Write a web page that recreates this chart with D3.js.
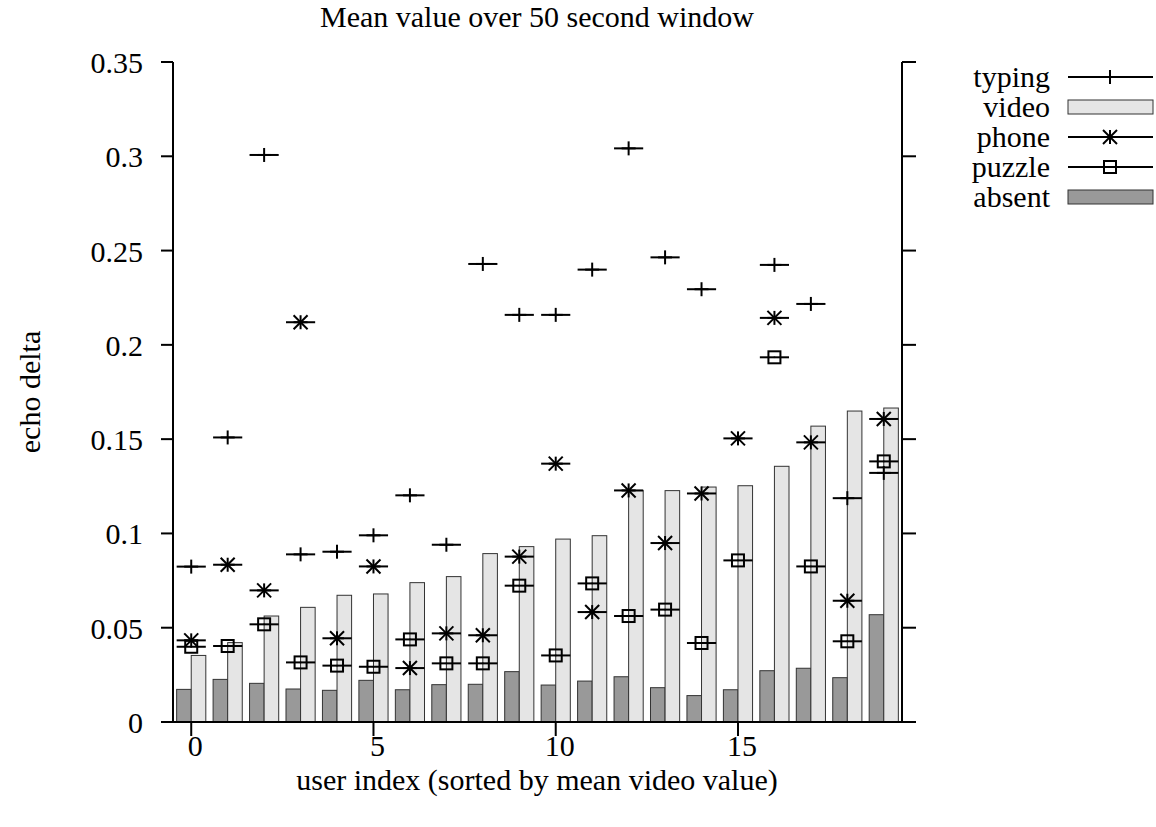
<!DOCTYPE html>
<html>
<head>
<meta charset="utf-8">
<script src="https://cdn.jsdelivr.net/npm/d3@7"></script>
<style>
  html, body { margin: 0; padding: 0; background: #fff; }
  #chart { width: 1156px; height: 827px; }
  text { font-family: "Liberation Serif", "Times New Roman", serif; fill: #000; }
</style>
</head>
<body>
<div id="chart"></div>
<script>
// user index 0..19, sorted by mean video value
const users = d3.range(20);
const typing = [0.0824, 0.1509, 0.3007, 0.0889, 0.0903, 0.0990, 0.1202, 0.0940, 0.2429, 0.2159,
                0.2159, 0.2399, 0.3042, 0.2464, 0.2295, null, 0.2424, 0.2217, 0.1187, 0.1321];
const video = [0.0353, 0.0421, 0.0562, 0.0608, 0.0672, 0.0679, 0.0739, 0.0771, 0.0893, 0.0930,
               0.0970, 0.0988, 0.1227, 0.1227, 0.1246, 0.1253, 0.1356, 0.1569, 0.1649, 0.1665];
const phone = [0.0433, 0.0834, 0.0698, 0.2120, 0.0444, 0.0825, 0.0286, 0.0470, 0.0460, 0.0877,
               0.1370, 0.0583, 0.1228, 0.0949, 0.1212, 0.1504, 0.2143, 0.1483, 0.0643, 0.1607];
const puzzle = [0.0399, 0.0403, 0.0518, 0.0316, 0.0299, 0.0293, 0.0438, 0.0311, 0.0311, 0.0723,
                0.0353, 0.0735, 0.0562, 0.0596, 0.0419, 0.0857, 0.1934, 0.0825, 0.0428, 0.1382];
const absent = [0.0173, 0.0226, 0.0205, 0.0175, 0.0168, 0.0221, 0.0171, 0.0198, 0.0200, 0.0267,
                0.0196, 0.0217, 0.0240, 0.0182, 0.0140, 0.0171, 0.0272, 0.0285, 0.0235, 0.0569];

const xTicks = [0, 5, 10, 15];
const yTicks = [0, 0.05, 0.1, 0.15, 0.2, 0.25, 0.3, 0.35];

function draw() {
  const w = 1156, h = 827;
  const svg = d3.select("#chart").append("svg")
    .attr("width", w).attr("height", h);

  const x = d3.scaleLinear().domain([-0.5, 19.5]).range([173, 902]);
  const y = d3.scaleLinear().domain([0, 0.35]).range([722, 62]);
  const barW = 0.4;

  // bars: absent left of the index, video right of it
  const bars = svg.append("g");
  bars.selectAll("rect.absent")
    .data(users)
    .join("rect")
    .attr("x", i => x(i - barW))
    .attr("y", i => y(absent[i]))
    .attr("width", x(barW) - x(0))
    .attr("height", i => y(0) - y(absent[i]))
    .attr("fill", "#999999")
    .attr("stroke", "#333")
    .attr("stroke-width", 1);
  bars.selectAll("rect.video")
    .data(users)
    .join("rect")
    .attr("x", i => x(i))
    .attr("y", i => y(video[i]))
    .attr("width", x(barW) - x(0))
    .attr("height", i => y(0) - y(video[i]))
    .attr("fill", "#e5e5e5")
    .attr("stroke", "#333")
    .attr("stroke-width", 1);

  // point symbols
  const s = 7;
  function plus(g) {
    g.append("line").attr("x1", -s).attr("x2", s).attr("y1", 0).attr("y2", 0);
    g.append("line").attr("x1", 0).attr("x2", 0).attr("y1", -s).attr("y2", s);
  }
  function star(g) {
    plus(g);
    g.append("line").attr("x1", -s).attr("x2", s).attr("y1", -s).attr("y2", s);
    g.append("line").attr("x1", -s).attr("x2", s).attr("y1", s).attr("y2", -s);
  }
  function box(g) {
    g.append("rect").attr("x", -6).attr("y", -6).attr("width", 12).attr("height", 12)
      .attr("fill", "none");
    g.append("rect").attr("x", -0.75).attr("y", -0.75).attr("width", 1.5).attr("height", 1.5)
      .attr("fill", "#000").attr("stroke", "none");
  }

  const series = [
    { vals: typing, sym: plus },
    { vals: phone, sym: star },
    { vals: puzzle, sym: box }
  ];

  series.forEach(ser => {
    const pts = users.filter(i => ser.vals[i] != null);
    const g = svg.append("g").attr("stroke", "#000").attr("stroke-width", 2).attr("fill", "none");
    g.selectAll("line.bar")
      .data(pts)
      .join("line")
      .attr("x1", i => x(i - barW))
      .attr("x2", i => x(i + barW))
      .attr("y1", i => y(ser.vals[i]))
      .attr("y2", i => y(ser.vals[i]));
    g.selectAll("g.pt")
      .data(pts)
      .join("g")
      .attr("transform", i => `translate(${x(i)},${y(ser.vals[i])})`)
      .each(function () { ser.sym(d3.select(this)); });
  });

  // axes: left, right and bottom, ticks pointing out
  const ax = svg.append("g").attr("stroke", "#000").attr("stroke-width", 2).attr("fill", "none");
  ax.append("path").attr("d", `M${x(-0.5)},${y(0.35)}V${y(0)}H${x(19.5)}V${y(0.35)}`);
  ax.selectAll("line.yl").data(yTicks).join("line")
    .attr("x1", 161).attr("x2", x(-0.5)).attr("y1", d => y(d)).attr("y2", d => y(d));
  ax.selectAll("line.yr").data(yTicks).join("line")
    .attr("x1", x(19.5)).attr("x2", 916).attr("y1", d => y(d)).attr("y2", d => y(d));
  ax.selectAll("line.xt").data(xTicks).join("line")
    .attr("x1", d => x(d)).attr("x2", d => x(d)).attr("y1", y(0)).attr("y2", y(0) + 14);

  svg.append("g").selectAll("text").data(yTicks).join("text")
    .attr("x", 143).attr("y", d => y(d) + 11)
    .attr("text-anchor", "end").style("font-size", "30px")
    .text(d => d3.format("")(d));
  svg.append("g").selectAll("text").data(xTicks).join("text")
    .attr("x", d => x(d) + 4).attr("y", 756)
    .attr("text-anchor", "middle").style("font-size", "30px")
    .text(d => d);

  svg.append("text").attr("x", 537).attr("y", 27).attr("text-anchor", "middle")
    .style("font-size", "30px").text("Mean value over 50 second window");
  svg.append("text").attr("x", 537).attr("y", 790).attr("text-anchor", "middle")
    .style("font-size", "30px").text("user index (sorted by mean video value)");
  svg.append("text").attr("transform", "translate(40,392) rotate(-90)")
    .attr("text-anchor", "middle").style("font-size", "30px").text("echo delta");

  // legend
  const legend = [
    { name: "typing", kind: "pt", sym: plus },
    { name: "video", kind: "bar", fill: "#e5e5e5" },
    { name: "phone", kind: "pt", sym: star },
    { name: "puzzle", kind: "pt", sym: box },
    { name: "absent", kind: "bar", fill: "#999999" }
  ];
  const lg = svg.append("g").selectAll("g").data(legend).join("g")
    .attr("transform", (d, k) => `translate(0,${77 + 30 * k})`);
  lg.append("text").attr("x", 1050).attr("y", 10).attr("text-anchor", "end")
    .style("font-size", "30px").text(d => d.name);
  lg.each(function (d) {
    const g = d3.select(this);
    if (d.kind === "bar") {
      g.append("rect").attr("x", 1068).attr("y", -7).attr("width", 85).attr("height", 14)
        .attr("fill", d.fill).attr("stroke", "#333").attr("stroke-width", 1);
    } else {
      const p = g.append("g").attr("stroke", "#000").attr("stroke-width", 2).attr("fill", "none");
      p.append("line").attr("x1", 1068).attr("x2", 1153).attr("y1", 0).attr("y2", 0);
      d.sym(p.append("g").attr("transform", "translate(1110,0)"));
    }
  });
}

draw();
</script>
</body>
</html>
